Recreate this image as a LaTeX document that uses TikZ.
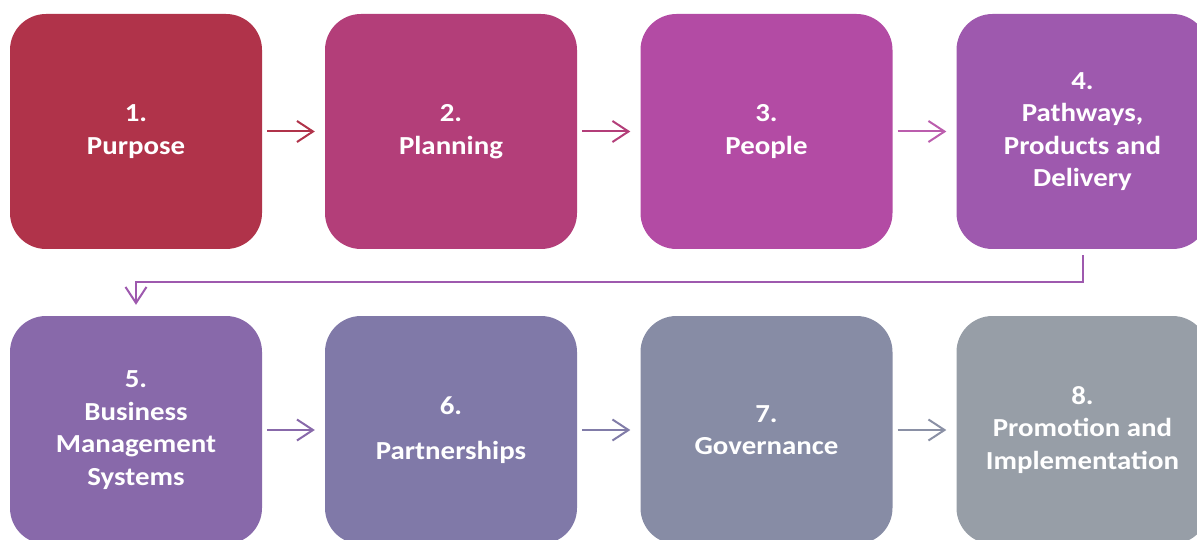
\documentclass[tikz,border=0pt]{standalone}
\usepackage{fontspec}
\setmainfont{Carlito}[FakeStretch=1.11]
\usetikzlibrary{arrows.meta}

% Step colours
\definecolor{cA}{HTML}{B0334A}
\definecolor{cB}{HTML}{B33E79}
\definecolor{cC}{HTML}{B34BA4}
\definecolor{cD}{HTML}{9E59AE}
\definecolor{cE}{HTML}{8869AA}
\definecolor{cF}{HTML}{8079A8}
\definecolor{cG}{HTML}{878CA5}
\definecolor{cH}{HTML}{979EA7}

\tikzset{
  stepbox/.style={rounded corners=36pt, minimum width=252pt, inner sep=0pt,
    align=center, text=white, font=\fontsize{26}{32.5}\selectfont\bfseries},
  toprow/.style={stepbox, minimum height=235pt},
  botrow/.style={stepbox, minimum height=228pt},
  flow/.style={line width=2pt, -{Straight Barb[length=16pt,width=21pt,line width=2pt]},
    shorten <=5pt, shorten >=10pt},
}

\begin{document}
\begin{tikzpicture}[x=1pt, y=-1pt]
  \useasboundingbox (0,0) rectangle (1197,540);
  \clip (0,0) rectangle (1197,540);

  % top row
  \node[toprow, fill=cA] (s1) at (136,131.5)    {1.\\Purpose};
  \node[toprow, fill=cB] (s2) at (451,131.5)    {2.\\Planning};
  \node[toprow, fill=cC] (s3) at (766.5,131.5)  {3.\\People};
  \node[toprow, fill=cD] (s4) at (1082.5,131.5) {4.\\Pathways,\\Products and\\Delivery};

  % bottom row
  \node[botrow, fill=cE] (s5) at (136,430)    {5.\\Business\\Management\\Systems};
  \node[botrow, fill=cF] (s6) at (451,430)    {6.\\[12pt]Partnerships};
  \node[botrow, fill=cG] (s7) at (766.5,430)  {7.\\Governance};
  \node[botrow, fill=cH] (s8) at (1082.5,430) {8.\\Promotion and\\Implementation};

  % connectors
  \draw[flow, cA] (s1) -- (s2);
  \draw[flow, cB] (s2) -- (s3);
  \draw[flow, cC!90!white] (s3) -- (s4);
  \draw[line width=2pt, cD, -{Straight Barb[length=16pt,width=21pt,line width=2pt]},
        shorten <=6pt, shorten >=11pt]
    (s4.south) -- ++(0,33) -| (s5.north);
  \draw[flow, cE] (s5) -- (s6);
  \draw[flow, cF!85!cG] (s6) -- (s7);
  \draw[flow, cG!80!cH] (s7) -- (s8);
\end{tikzpicture}
\end{document}
